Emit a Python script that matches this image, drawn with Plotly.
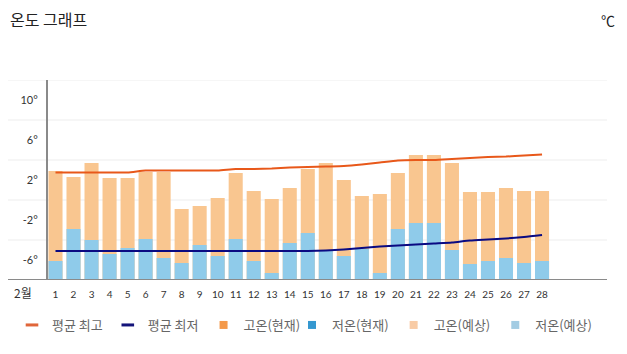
import plotly.graph_objects as go

days = list(range(1, 29))
tick_labels = [str(d) for d in days]

high_forecast = [2.9, 2.3, 3.7, 2.2, 2.2, 2.8, 2.8, -0.9, -0.6, 0.2, 2.7, 0.9, 0.1, 1.2,
                 3.1, 3.7, 2.0, 0.4, 0.6, 2.7, 4.5, 4.5, 3.7, 0.8, 0.8, 1.2, 0.9, 0.9]
low_forecast = [-6.1, -2.9, -4.0, -5.4, -4.8, -3.9, -5.8, -6.3, -4.5, -5.6, -3.9, -6.1, -7.3, -4.3,
                -3.3, -5.0, -5.6, -4.9, -7.3, -2.9, -2.3, -2.3, -5.0, -6.4, -6.1, -5.8, -6.3, -6.1]
avg_high = [2.75, 2.75, 2.75, 2.75, 2.75, 2.95, 2.95, 2.95, 2.95, 2.95, 3.1, 3.1, 3.15, 3.25,
            3.3, 3.35, 3.4, 3.55, 3.75, 3.95, 4.0, 4.0, 4.1, 4.2, 4.3, 4.35, 4.45, 4.55]
avg_low = [-5.1, -5.1, -5.1, -5.1, -5.1, -5.1, -5.1, -5.1, -5.1, -5.1, -5.1, -5.1, -5.1, -5.1,
           -5.1, -5.05, -4.95, -4.8, -4.65, -4.55, -4.45, -4.35, -4.25, -4.05, -3.95, -3.85, -3.7, -3.5]

y_ticks = [10, 6, 2, -2, -6]
y_tick_text = ["10°", "6°", "2°", "-2°", "-6°"]
grid_values = [12, 8, 4, 0, -4]
Y_MIN, Y_MAX = -8, 12

legend_names = ["평균 최고", "평균 최저", "고온(현재)", "저온(현재)", "고온(예상)", "저온(예상)"]
legend_colors = ["#E0663A", "#14147A", "#F4994A", "#3598D0", "#F8CBA5", "#A3CCE3"]
legend_symbols = ["line-ew", "line-ew", "square", "square", "square", "square"]
legend_groups = ["legend", "legend", "legend", "legend2", "legend2", "legend2"]

C_HIGH_BAR = "#F9C690"
C_LOW_BAR = "#8FCBEA"
C_AVG_HIGH = "#E8581A"
C_AVG_LOW = "#0A0A82"

W, H = 627, 354
L, R, T, B = 48, 20, 80, 74
plot_w = W - L - R
px_per_day = 18.02
x0 = 1 - 7.5 / px_per_day
x1 = x0 + plot_w / px_per_day

fig = go.Figure()

fig.add_trace(go.Bar(x=days, y=[h - Y_MIN for h in high_forecast], base=Y_MIN,
                     marker=dict(color=C_HIGH_BAR, line=dict(width=0)), showlegend=False,
                     name="고온(예상)"))
fig.add_trace(go.Bar(x=days, y=[l - Y_MIN for l in low_forecast], base=Y_MIN,
                     marker=dict(color=C_LOW_BAR, line=dict(width=0)), showlegend=False,
                     name="저온(예상)"))
fig.add_trace(go.Scatter(x=days, y=avg_high, mode="lines",
                         line=dict(color=C_AVG_HIGH, width=2, shape="spline", smoothing=0.6),
                         showlegend=False, name="평균 최고"))
fig.add_trace(go.Scatter(x=days, y=avg_low, mode="lines",
                         line=dict(color=C_AVG_LOW, width=2, shape="spline", smoothing=0.6),
                         showlegend=False, name="평균 최저"))

for name, color, sym, lg in zip(legend_names, legend_colors, legend_symbols, legend_groups):
    if sym == "line-ew":
        marker = dict(symbol=sym, size=9, color=color, line=dict(color=color, width=3))
    else:
        marker = dict(symbol=sym, size=8, color=color, line=dict(width=0))
    fig.add_trace(go.Scatter(x=[None], y=[None], mode="markers", name=name, marker=marker,
                             showlegend=True, legend=lg))

shapes = []
gx0 = (8 - L) / plot_w
gx1 = (607 - L) / plot_w
for g in grid_values:
    shapes.append(dict(type="line", xref="paper", yref="y", x0=gx0, x1=gx1, y0=g, y1=g,
                       line=dict(color="#EDEDED", width=1), layer="below"))
shapes.append(dict(type="line", xref="paper", yref="y", x0=gx0, x1=gx1, y0=Y_MIN, y1=Y_MIN,
                   line=dict(color="#8A8A8A", width=2), layer="above"))

legend_common = dict(orientation="h", xref="container", yref="container", xanchor="left",
                     y=1 - 325 / H, yanchor="middle", itemwidth=30,
                     font=dict(size=13, color="#666", family="Noto Sans CJK KR"),
                     bgcolor="rgba(0,0,0,0)", traceorder="normal")

fig.update_layout(
    width=W, height=H,
    margin=dict(l=L, r=R, t=T, b=B, autoexpand=False),
    paper_bgcolor="white", plot_bgcolor="white",
    barmode="overlay", bargap=0.22,
    font=dict(family="Noto Sans CJK KR, Noto Sans, sans-serif", color="#333"),
    title=dict(text="온도 그래프", x=10 / W, xanchor="left", xref="container",
               y=1 - 20 / H, yanchor="middle", yref="container",
               font=dict(size=16, color="#222", family="Noto Sans CJK KR")),
    xaxis=dict(range=[x0, x1], tickvals=days, ticktext=tick_labels, showgrid=False,
               zeroline=False, showline=False, ticks="", ticklabelstandoff=7,
               tickfont=dict(size=10, color="#333", family="Lato, Noto Sans")),
    yaxis=dict(range=[Y_MIN, Y_MAX], tickvals=y_ticks, ticktext=y_tick_text, showgrid=False,
               zeroline=False, showline=True, linecolor="#8A8A8A", linewidth=2, ticks="",
               ticklabelstandoff=6,
               tickfont=dict(size=11, color="#333", family="Lato, Noto Sans")),
    shapes=shapes,
    showlegend=True,
    legend=dict(x=12 / W, **legend_common),
    legend2=dict(x=292 / W, **legend_common),
    annotations=[
        dict(text="℃", xref="paper", yref="paper", x=(617 - L) / plot_w, xanchor="right",
             y=(H - B - 20) / (H - T - B), yanchor="middle", showarrow=False,
             font=dict(size=14, color="#222", family="Noto Sans CJK KR")),
        dict(text="2월", xref="paper", yref="paper", x=(23 - L) / plot_w, xanchor="center",
             y=-12 / (H - T - B), yanchor="middle", showarrow=False,
             font=dict(size=12, color="#333", family="Noto Sans CJK KR")),
    ],
)

fig.write_html("out.html")
